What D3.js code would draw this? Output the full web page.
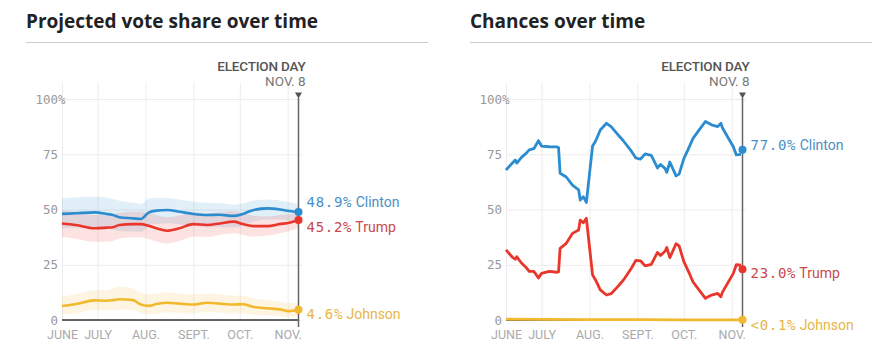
<!DOCTYPE html>
<html>
<head>
<meta charset="utf-8">
<script src="https://cdn.jsdelivr.net/npm/d3@7"></script>
<style>
body { margin: 0; background: #fff; }
svg { display: block; font-family: Roboto, sans-serif; }
.grid line { stroke: #ececec; }
.grid path { display: none; }
</style>
</head>
<body>
<svg id="chart" width="873" height="361"></svg>
<script>
// ---- data ----
var monthTicks = ["2016-06-08", "2016-07-01", "2016-08-01", "2016-09-01", "2016-10-01", "2016-11-01"];
var monthLabels = ["JUNE", "JULY", "AUG.", "SEPT.", "OCT.", "NOV."];
var yTicks = [0, 25, 50, 75, 100];
var names = ["Clinton", "Trump", "Johnson"];

// projected vote share
var shareDates = ["2016-06-08","2016-06-17","2016-06-29","2016-07-07","2016-07-11","2016-07-15","2016-07-24","2016-07-29",
  "2016-08-03","2016-08-08","2016-08-15","2016-08-23","2016-09-01","2016-09-10","2016-09-18","2016-09-27",
  "2016-10-03","2016-10-10","2016-10-19","2016-10-27","2016-11-02","2016-11-08"];
var clintonShare   = [48.0,48.3,48.7,48.0,47.5,46.5,46.0,45.7,48.6,49.5,49.8,49.0,48.0,47.5,47.6,47.1,48.0,49.8,50.5,50.0,49.3,48.9];
var clintonShareHi = [55.0,55.5,55.8,55.3,54.8,54.0,53.0,52.5,55.0,55.3,55.2,54.5,53.5,53.0,52.8,52.2,52.8,54.0,54.5,54.0,53.3,52.5];
var clintonShareLo = [41.5,41.8,42.0,41.5,41.0,40.3,40.0,39.8,42.5,43.5,43.8,43.3,42.5,42.0,42.2,41.8,42.8,44.5,45.5,45.5,45.0,45.3];
var trumpShare     = [43.7,43.0,41.5,41.8,42.0,43.0,43.4,43.4,42.6,41.5,40.4,41.5,43.4,43.0,43.7,44.5,43.4,42.5,42.5,43.4,44.0,45.2];
var trumpShareHi   = [49.5,49.0,47.5,47.5,47.8,48.5,49.0,49.0,48.5,47.5,46.5,47.3,48.8,48.3,48.8,49.3,48.3,47.2,46.8,47.5,47.8,48.8];
var trumpShareLo   = [37.7,36.8,35.4,35.5,35.8,36.8,37.4,37.5,36.7,35.5,34.7,35.8,37.8,37.6,38.5,39.2,38.5,37.8,38.2,39.3,40.2,41.6];
var johnsonShare   = [6.3,7.2,8.9,8.7,9.0,9.4,9.0,7.0,6.4,7.2,7.8,7.4,7.0,7.8,7.4,7.0,7.1,5.9,5.3,4.8,4.0,4.6];
var johnsonShareHi = [10.5,11.8,13.5,13.5,14.3,15.0,14.3,12.2,11.5,12.0,12.6,12.0,11.5,12.0,11.6,11.0,11.0,9.8,9.0,8.3,7.6,7.8];
var johnsonShareLo = [2.5,3.0,4.5,4.3,4.5,4.8,4.5,3.0,2.5,3.0,3.5,3.2,3.0,3.6,3.3,3.0,3.2,2.4,2.0,1.7,1.4,1.6];
var shareFinal = [48.9, 45.2, 4.6];
var shareFinalText = ["48.9%", "45.2%", "4.6%"];

// chances of winning
var chanceDates = ["2016-06-08","2016-06-12","2016-06-14","2016-06-15","2016-06-18","2016-06-21","2016-06-23","2016-06-26",
  "2016-06-29","2016-07-01","2016-07-06","2016-07-11","2016-07-12","2016-07-13","2016-07-17","2016-07-21","2016-07-25",
  "2016-07-26","2016-07-28","2016-07-30","2016-08-01","2016-08-03","2016-08-05","2016-08-08","2016-08-12","2016-08-15",
  "2016-08-18","2016-08-23","2016-08-28","2016-08-31","2016-09-03","2016-09-06","2016-09-10","2016-09-14","2016-09-16",
  "2016-09-19","2016-09-20","2016-09-22","2016-09-26","2016-09-28","2016-10-01","2016-10-05","2016-10-07","2016-10-11",
  "2016-10-15","2016-10-19","2016-10-23","2016-10-25","2016-10-26","2016-10-28","2016-11-02","2016-11-04","2016-11-07"];
var clintonChance = [67.9,70.9,72.4,71.0,73.6,75.4,77.0,77.5,81.1,78.7,78.4,78.3,78.0,66.4,64.7,61.0,58.9,54.3,55.8,53.2,
  66.0,78.7,81.0,86.0,89.0,87.5,85.0,81.0,76.5,73.3,72.8,75.2,74.5,68.8,70.4,68.5,66.8,71.5,65.2,66.0,72.9,79.0,82.2,
  86.0,89.8,88.3,87.5,89.0,87.0,84.5,78.5,74.7,74.9];
var trumpChance = [31.7,28.5,27.5,28.6,25.8,23.8,22.0,22.0,19.0,21.1,22.0,21.6,21.8,32.4,34.7,39.2,40.7,45.2,44.0,46.0,
  33.2,20.4,18.0,13.6,11.3,11.9,14.1,18.1,23.3,27.0,26.8,24.5,25.2,30.6,29.2,31.2,32.8,28.2,34.5,33.5,26.5,20.5,17.2,
  13.5,9.8,11.3,12.0,10.5,12.5,15.0,21.0,25.0,24.8];
var johnsonChanceDates = ["2016-06-08","2016-07-01","2016-08-01","2016-09-01","2016-10-01","2016-11-07"];
var johnsonChance = [0.4, 0.3, 0.2, 0.2, 0.1, 0.1];
var chanceFinal = [77.0, 23.0, 0.1];
var chanceFinalText = ["77.0%", "23.0%", "<0.1%"];

// ---- drawing ----
var lineColors = ["#2b8cd0", "#e9352b", "#f2b92e"];
var labelColors = ["#4a8fc4", "#c8494a", "#e8b544"];

var parse = d3.timeParse("%Y-%m-%d");
var electionDay = parse("2016-11-08");
var x = d3.scaleTime().domain([parse("2016-06-08"), electionDay]).range([0, 236.5]);
var y = d3.scaleLinear().domain([0, 100]).range([320, 99]);

var svg = d3.select("#chart");

function rows(dates, vals, lo, hi) {
  return dates.map(function(d, i) {
    return {date: parse(d), v: vals[i], lo: lo ? lo[i] : null, hi: hi ? hi[i] : null};
  });
}

function drawPanel(left, title, series, finals, finalText, labelShift, smooth) {
  var g = svg.append("g").attr("transform", "translate(" + left + ",0)");

  g.append("text")
    .attr("x", -36).attr("y", 27.5)
    .attr("font-size", 19).attr("font-weight", 700).attr("fill", "#222")
    .attr("font-family", "'Open Sans', sans-serif")
    .text(title);
  g.append("line")
    .attr("x1", -36).attr("x2", 366).attr("y1", 42.5).attr("y2", 42.5)
    .attr("stroke", "#ccc");

  // vertical grid + month labels
  var xAxis = d3.axisBottom(x)
    .tickValues(monthTicks.map(parse))
    .tickSize(-(320 - 83))
    .tickPadding(10)
    .tickFormat(function(d, i) { return monthLabels[i]; });
  var gx = g.append("g").attr("class", "grid").attr("transform", "translate(0,320)").call(xAxis);
  gx.selectAll("text").attr("fill", "#aaa").attr("font-size", 12.5).attr("font-family", "Roboto, sans-serif");

  // horizontal grid + value labels
  var yAxis = d3.axisLeft(y).tickValues(yTicks).tickSize(-240).tickPadding(4);
  var gy = g.append("g").attr("class", "grid").call(yAxis);
  gy.selectAll("text")
    .attr("fill", "#999").attr("font-size", 12.5)
    .attr("font-family", "'DejaVu Sans Mono', monospace");
  gy.selectAll(".tick").filter(function(d) { return d === 100; })
    .append("text")
    .attr("x", -4).attr("dy", "0.32em")
    .attr("fill", "#999").attr("font-size", 12.5)
    .attr("font-family", "'DejaVu Sans Mono', monospace")
    .attr("text-anchor", "start")
    .text("%");

  g.append("line")
    .attr("x1", 0).attr("x2", x(electionDay)).attr("y1", y(0)).attr("y2", y(0))
    .attr("stroke", "#333").attr("stroke-width", 1.5);

  var curve = smooth ? d3.curveMonotoneX : d3.curveLinear;
  var area = d3.area().curve(curve)
    .x(function(d) { return x(d.date); })
    .y0(function(d) { return y(d.lo); })
    .y1(function(d) { return y(d.hi); });
  var line = d3.line().curve(curve)
    .x(function(d) { return x(d.date); })
    .y(function(d) { return y(d.v); });

  series.forEach(function(s, i) {
    if (s[0].lo !== null) {
      g.append("path").attr("d", area(s))
        .attr("fill", lineColors[i]).attr("fill-opacity", 0.14);
    }
  });
  series.forEach(function(s, i) {
    g.append("path").attr("d", line(s))
      .attr("fill", "none").attr("stroke", lineColors[i])
      .attr("stroke-width", smooth ? 2.6 : 2.8).attr("stroke-linejoin", "round");
  });

  // election day marker
  var xe = x(electionDay);
  g.append("line")
    .attr("x1", xe).attr("x2", xe).attr("y1", 98).attr("y2", 327)
    .attr("stroke", "#666").attr("stroke-width", 1.5);
  g.append("path")
    .attr("d", "M" + (xe - 3.5) + ",92.5L" + (xe + 3.5) + ",92.5L" + xe + ",98.5Z")
    .attr("fill", "#555");
  g.append("text")
    .attr("x", xe + 7).attr("y", 70.5).attr("text-anchor", "end")
    .attr("font-size", 13.5).attr("font-weight", 500).attr("fill", "#555")
    .attr("letter-spacing", -0.2)
    .text("ELECTION DAY");
  g.append("text")
    .attr("x", xe + 7).attr("y", 85.5).attr("text-anchor", "end")
    .attr("font-size", 13.5).attr("fill", "#777")
    .text("NOV. 8");

  finals.forEach(function(v, i) {
    g.append("circle")
      .attr("cx", xe).attr("cy", y(v)).attr("r", 4)
      .attr("fill", lineColors[i]);
    var t = g.append("text")
      .attr("x", xe + 8).attr("y", y(v) + labelShift[i]).attr("dy", "0.35em")
      .attr("font-size", 14).attr("fill", labelColors[i]);
    t.append("tspan").attr("font-family", "'DejaVu Sans Mono', monospace")
      .attr("letter-spacing", 0.7).text(finalText[i]);
    t.append("tspan").attr("font-family", "Roboto, sans-serif")
      .attr("letter-spacing", 0).text(" " + names[i]);
  });
}

drawPanel(62, "Projected vote share over time", [
  rows(shareDates, clintonShare, clintonShareLo, clintonShareHi),
  rows(shareDates, trumpShare, trumpShareLo, trumpShareHi),
  rows(shareDates, johnsonShare, johnsonShareLo, johnsonShareHi)
], shareFinal, shareFinalText, [-10, 7, 4.5], true);

drawPanel(506, "Chances over time", [
  rows(chanceDates, clintonChance),
  rows(chanceDates, trumpChance),
  rows(johnsonChanceDates, johnsonChance)
], chanceFinal, chanceFinalText, [-4.3, 4, 5], false);
</script>
</body>
</html>
